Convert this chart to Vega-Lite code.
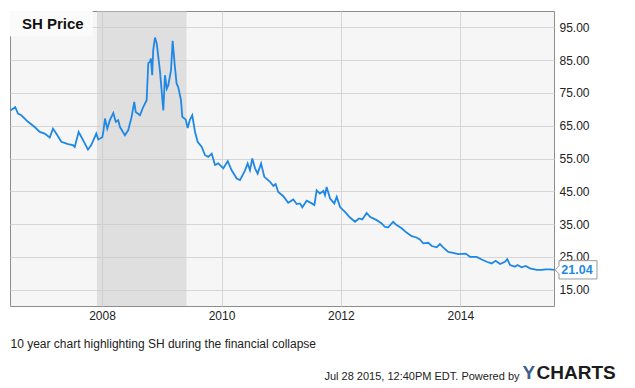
{
  "$schema": "https://vega.github.io/schema/vega-lite/v6.json",
  "width": 544,
  "height": 295,
  "autosize": "none",
  "padding": {"left": 10, "top": 11, "right": 81, "bottom": 82},
  "background": "white",
  "config": {
    "font": "Liberation Sans",
    "view": {"fill": "#f6f6f6", "stroke": "#8c8c8c", "strokeWidth": 1}
  },
  "resolve": {"axis": {"x": "independent", "y": "independent"}},
  "layer": [
    {
      "data": {"values": [{"start": "2007-12-01", "end": "2009-06-01"}]},
      "mark": {"type": "rect", "fill": "#c8c8c8", "opacity": 0.5},
      "encoding": {
        "x": {"field": "start", "type": "temporal", "axis": null,
              "scale": {"type": "utc", "domain": [{"year": 2006, "month": 6, "date": 17, "utc": true}, {"year": 2015, "month": 7, "date": 28, "utc": true}]}},
        "x2": {"field": "end"}
      }
    },
    {
      "data": {"values": [
        {"d": "2006-06-22", "p": 69.7}, {"d": "2006-07-19", "p": 70.7}, {"d": "2006-08-05", "p": 68.7},
        {"d": "2006-08-25", "p": 68.2}, {"d": "2006-10-05", "p": 66.2}, {"d": "2006-11-15", "p": 64.6},
        {"d": "2006-12-16", "p": 63.1}, {"d": "2007-01-15", "p": 62.6}, {"d": "2007-02-15", "p": 61.4},
        {"d": "2007-03-07", "p": 64.1}, {"d": "2007-03-27", "p": 62.6}, {"d": "2007-04-27", "p": 60.1},
        {"d": "2007-06-07", "p": 59.4}, {"d": "2007-07-07", "p": 59.1}, {"d": "2007-07-18", "p": 58.5},
        {"d": "2007-08-11", "p": 63.1}, {"d": "2007-09-07", "p": 60.6}, {"d": "2007-10-07", "p": 57.7},
        {"d": "2007-10-27", "p": 59.1}, {"d": "2007-11-27", "p": 62.6}, {"d": "2007-12-09", "p": 60.8},
        {"d": "2008-01-03", "p": 61.5}, {"d": "2008-01-10", "p": 63.5}, {"d": "2008-01-19", "p": 67.2},
        {"d": "2008-02-02", "p": 64.1}, {"d": "2008-02-18", "p": 66.7}, {"d": "2008-03-10", "p": 68.9},
        {"d": "2008-03-25", "p": 66.2}, {"d": "2008-04-09", "p": 66.7}, {"d": "2008-04-20", "p": 64.6},
        {"d": "2008-05-20", "p": 62.1}, {"d": "2008-06-09", "p": 63.6}, {"d": "2008-06-30", "p": 67.7},
        {"d": "2008-07-16", "p": 72.3}, {"d": "2008-07-25", "p": 69.2}, {"d": "2008-08-20", "p": 68.2},
        {"d": "2008-09-09", "p": 70.7}, {"d": "2008-09-30", "p": 72.8}, {"d": "2008-10-10", "p": 84.1},
        {"d": "2008-10-20", "p": 84.5}, {"d": "2008-10-26", "p": 85.5}, {"d": "2008-11-03", "p": 80.4},
        {"d": "2008-11-09", "p": 88.0}, {"d": "2008-11-20", "p": 91.9}, {"d": "2008-12-01", "p": 90.0},
        {"d": "2008-12-20", "p": 81.9}, {"d": "2009-01-10", "p": 69.7}, {"d": "2009-01-20", "p": 80.4},
        {"d": "2009-01-31", "p": 76.3}, {"d": "2009-02-09", "p": 77.3}, {"d": "2009-02-26", "p": 81.9},
        {"d": "2009-03-08", "p": 90.9}, {"d": "2009-03-22", "p": 82.9}, {"d": "2009-04-01", "p": 77.9},
        {"d": "2009-04-11", "p": 76.8}, {"d": "2009-04-28", "p": 72.8}, {"d": "2009-05-06", "p": 67.7},
        {"d": "2009-05-27", "p": 66.9}, {"d": "2009-06-08", "p": 64.3}, {"d": "2009-06-22", "p": 66.9},
        {"d": "2009-07-06", "p": 68.2}, {"d": "2009-07-23", "p": 63.1}, {"d": "2009-08-08", "p": 60.1},
        {"d": "2009-09-02", "p": 58.5}, {"d": "2009-09-22", "p": 56.0}, {"d": "2009-10-12", "p": 55.5},
        {"d": "2009-11-02", "p": 56.5}, {"d": "2009-11-22", "p": 53.0}, {"d": "2009-12-12", "p": 53.5},
        {"d": "2010-01-12", "p": 52.0}, {"d": "2010-02-08", "p": 54.2}, {"d": "2010-03-04", "p": 51.4},
        {"d": "2010-04-04", "p": 48.9}, {"d": "2010-04-24", "p": 48.4}, {"d": "2010-05-25", "p": 51.4},
        {"d": "2010-06-10", "p": 53.5}, {"d": "2010-06-24", "p": 51.4}, {"d": "2010-07-08", "p": 55.0},
        {"d": "2010-07-25", "p": 52.0}, {"d": "2010-08-10", "p": 50.4}, {"d": "2010-08-31", "p": 53.5},
        {"d": "2010-09-20", "p": 49.4}, {"d": "2010-10-25", "p": 47.9}, {"d": "2010-11-14", "p": 46.6},
        {"d": "2010-11-28", "p": 47.2}, {"d": "2010-12-14", "p": 44.8}, {"d": "2011-01-14", "p": 43.5},
        {"d": "2011-02-13", "p": 41.5}, {"d": "2011-03-16", "p": 42.5}, {"d": "2011-04-06", "p": 41.1},
        {"d": "2011-04-26", "p": 41.3}, {"d": "2011-05-10", "p": 40.1}, {"d": "2011-06-06", "p": 42.1},
        {"d": "2011-07-07", "p": 41.3}, {"d": "2011-07-23", "p": 40.8}, {"d": "2011-08-06", "p": 45.3},
        {"d": "2011-08-26", "p": 44.3}, {"d": "2011-09-16", "p": 45.1}, {"d": "2011-09-26", "p": 43.8},
        {"d": "2011-10-06", "p": 46.3}, {"d": "2011-10-27", "p": 42.8}, {"d": "2011-11-22", "p": 41.3},
        {"d": "2011-12-07", "p": 43.3}, {"d": "2011-12-27", "p": 40.2}, {"d": "2012-01-26", "p": 38.7},
        {"d": "2012-02-26", "p": 37.0}, {"d": "2012-03-28", "p": 35.7}, {"d": "2012-04-21", "p": 36.7},
        {"d": "2012-05-11", "p": 36.4}, {"d": "2012-06-07", "p": 38.4}, {"d": "2012-06-27", "p": 37.2},
        {"d": "2012-08-07", "p": 36.2}, {"d": "2012-09-07", "p": 35.2}, {"d": "2012-09-27", "p": 34.1},
        {"d": "2012-10-17", "p": 34.0}, {"d": "2012-11-16", "p": 35.7}, {"d": "2012-12-07", "p": 34.7},
        {"d": "2013-01-07", "p": 33.7}, {"d": "2013-02-06", "p": 32.4}, {"d": "2013-03-09", "p": 31.3},
        {"d": "2013-04-08", "p": 30.9}, {"d": "2013-04-28", "p": 30.3}, {"d": "2013-05-19", "p": 29.1},
        {"d": "2013-06-19", "p": 29.3}, {"d": "2013-07-10", "p": 28.3}, {"d": "2013-08-09", "p": 27.9},
        {"d": "2013-08-29", "p": 28.9}, {"d": "2013-09-18", "p": 27.9}, {"d": "2013-10-19", "p": 26.5},
        {"d": "2013-11-18", "p": 26.2}, {"d": "2013-12-19", "p": 25.8}, {"d": "2014-02-03", "p": 26.0},
        {"d": "2014-03-01", "p": 25.0}, {"d": "2014-04-11", "p": 25.0}, {"d": "2014-05-12", "p": 24.2},
        {"d": "2014-06-11", "p": 23.5}, {"d": "2014-07-12", "p": 23.0}, {"d": "2014-08-05", "p": 23.8},
        {"d": "2014-09-01", "p": 22.8}, {"d": "2014-10-01", "p": 23.5}, {"d": "2014-10-15", "p": 24.3},
        {"d": "2014-11-01", "p": 22.5}, {"d": "2014-12-01", "p": 22.0}, {"d": "2014-12-16", "p": 22.5},
        {"d": "2015-01-11", "p": 21.8}, {"d": "2015-02-05", "p": 22.2}, {"d": "2015-03-03", "p": 21.5},
        {"d": "2015-04-13", "p": 21.0}, {"d": "2015-05-14", "p": 21.0}, {"d": "2015-06-07", "p": 21.2},
        {"d": "2015-07-04", "p": 21.2}, {"d": "2015-07-28", "p": 21.04}
      ]},
      "mark": {"type": "line", "color": "#1f88e5", "strokeWidth": 1.8},
      "encoding": {
        "x": {"field": "d", "type": "temporal",
              "scale": {"type": "utc", "domain": [{"year": 2006, "month": 6, "date": 17, "utc": true}, {"year": 2015, "month": 7, "date": 28, "utc": true}]},
              "axis": {"orient": "bottom", "format": "%Y",
                       "values": [{"year": 2008, "month": 1, "date": 1, "utc": true}, {"year": 2010, "month": 1, "date": 1, "utc": true}, {"year": 2012, "month": 1, "date": 1, "utc": true}, {"year": 2014, "month": 1, "date": 1, "utc": true}],
                       "grid": true, "gridColor": "#d6d6d6", "domain": false, "ticks": false, "tickSize": 0,
                       "labelPadding": 4, "labelFontSize": 12, "labelColor": "#222222",
                       "title": "10 year chart highlighting SH during the financial collapse",
                       "titleFontSize": 12, "titleFontWeight": "normal", "titleColor": "#222222",
                       "titleX": 0, "titleY": 41, "titleAlign": "left", "titleBaseline": "alphabetic"}},
        "y": {"field": "p", "type": "quantitative",
              "scale": {"domain": [10, 100], "nice": false, "zero": false},
              "axis": {"orient": "right", "values": [15, 25, 35, 45, 55, 65, 75, 85, 95], "format": ".2f",
                       "grid": true, "gridColor": "#d6d6d6", "domain": false, "ticks": false, "tickSize": 0,
                       "labelPadding": 5, "labelFontSize": 12, "labelColor": "#222222",
                       "title": "Jul 28 2015, 12:40PM EDT. Powered by",
                       "titleFontSize": 11, "titleFontWeight": "normal", "titleColor": "#222222",
                       "titleAngle": 0, "titleX": -35, "titleY": 368, "titleAlign": "right", "titleBaseline": "alphabetic"}}
      }
    },
    {
      "data": {"values": [{"label": "SH Price"}]},
      "mark": {"type": "rect", "fill": "#fbfbfb"},
      "encoding": {
        "x": {"datum": {"year": 2006, "month": 6, "date": 17, "utc": true}, "type": "temporal",
              "axis": {"orient": "top", "labels": false, "ticks": false, "domain": false, "grid": false,
                       "title": "CHARTS", "titleFontSize": 19, "titleFontWeight": "bold", "titleColor": "#1c1c1c",
                       "titleX": 526, "titleY": 367, "titleAlign": "left", "titleBaseline": "alphabetic", "titleAngle": 0}},
        "x2": {"datum": {"year": 2007, "month": 11, "date": 5, "utc": true}},
        "y": {"datum": 100, "type": "quantitative",
              "axis": {"orient": "left", "labels": false, "ticks": false, "domain": false, "grid": false,
                       "title": "Y", "titleFontSize": 19, "titleFontWeight": "bold", "titleColor": "#3f5f91",
                       "titleX": 512, "titleY": 367, "titleAlign": "left", "titleBaseline": "alphabetic", "titleAngle": 0}},
        "y2": {"datum": 92.3}
      }
    },
    {
      "data": {"values": [{"label": "SH Price"}]},
      "mark": {"type": "text", "align": "left", "baseline": "alphabetic", "dx": 12, "dy": 18, "fontSize": 15, "fontWeight": "bold", "color": "#111111"},
      "encoding": {
        "x": {"datum": {"year": 2006, "month": 6, "date": 17, "utc": true}, "type": "temporal", "axis": null},
        "y": {"datum": 100, "type": "quantitative", "axis": null},
        "text": {"field": "label"}
      }
    },
    {
      "data": {"values": [{"d": "2015-07-28", "p": 21.04}]},
      "mark": {"type": "point", "shape": "M -1 0 L -0.81 -0.19 L -0.81 -0.436 L 1 -0.436 L 1 0.436 L -0.81 0.436 L -0.81 0.19 Z",
               "size": 1764, "filled": true, "fill": "#ffffff", "stroke": "#999999", "strokeWidth": 1, "opacity": 1, "xOffset": 22},
      "encoding": {
        "x": {"field": "d", "type": "temporal", "axis": null},
        "y": {"field": "p", "type": "quantitative", "axis": null}
      }
    },
    {
      "data": {"values": [{"d": "2015-07-28", "p": 21.04}]},
      "mark": {"type": "text", "align": "center", "baseline": "middle", "dx": 23, "fontSize": 12.5, "fontWeight": "bold", "color": "#1f88e5"},
      "encoding": {
        "x": {"field": "d", "type": "temporal", "axis": null},
        "y": {"field": "p", "type": "quantitative", "axis": null},
        "text": {"field": "p", "type": "quantitative", "format": ".2f"}
      }
    }
  ]
}
